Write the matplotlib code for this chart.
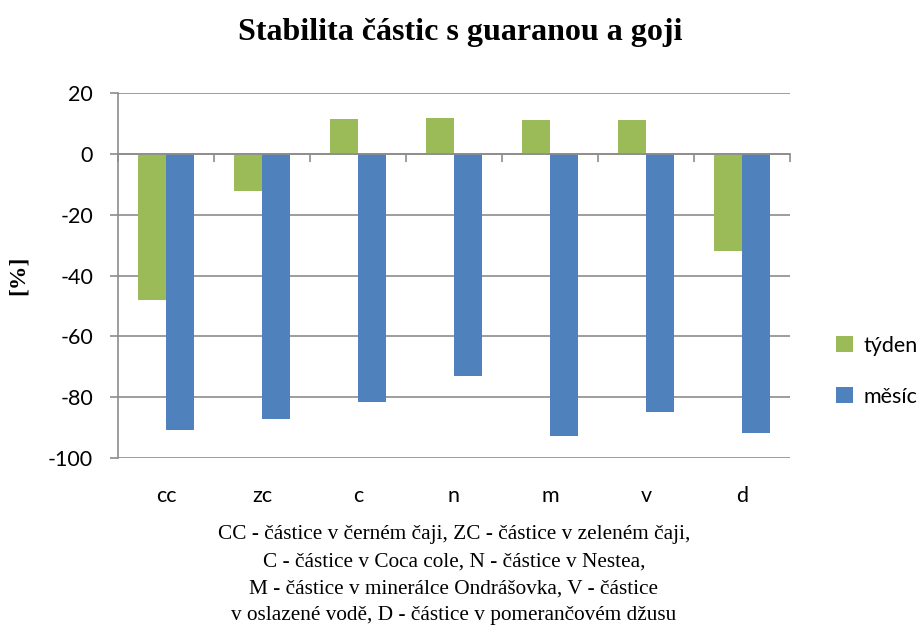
import numpy as np
import matplotlib.pyplot as plt

categories = ["cc", "zc", "c", "n", "m", "v", "d"]
tyden = [-48.1, -12.3, 11.5, 11.9, 11.0, 11.0, -32.1]
mesic = [-90.7, -87.2, -81.7, -73.2, -92.7, -85.0, -91.8]
series_names = ["týden", "měsíc"]
y_ticks = [20, 0, -20, -40, -60, -80, -100]

title = "Stabilita částic s guaranou a goji"
note = ("CC - částice v černém čaji, ZC - částice v zeleném čaji,\n"
        "C - částice v Coca cole, N - částice v Nestea,\n"
        "M - částice v minerálce Ondrášovka, V - částice\n"
        "v oslazené vodě, D - částice v pomerančovém džusu")

sans = ["Lato", "DejaVu Sans"]
serif = ["Liberation Serif", "DejaVu Serif"]
green = "#9BBB59"
blue = "#4F81BD"
grid_col = "#8C8C8C"

fig = plt.figure(figsize=(9.2, 6.37), dpi=100)
ax = fig.add_axes([118 / 920, 1 - 458 / 637, 672 / 920, 365 / 637])

x = np.arange(len(categories))
w = 0.29
ax.bar(x - w / 2, tyden, w, color=green, label=series_names[0], zorder=3)
ax.bar(x + w / 2, mesic, w, color=blue, label=series_names[1], zorder=3)

ax.set_xlim(-0.5, len(categories) - 0.5)
ax.set_ylim(-100, 20)
ax.set_yticks(y_ticks)
ax.set_yticklabels([str(v) for v in y_ticks], family=sans, fontsize=15.5)
ax.yaxis.grid(True, color=grid_col, linewidth=1.2, zorder=0)
ax.tick_params(axis="y", length=6, color=grid_col, width=1.2, pad=12)

# category axis sits on the zero line, with ticks between the groups
ax.spines["bottom"].set_position(("data", 0))
ax.spines["bottom"].set_color(grid_col)
ax.spines["bottom"].set_linewidth(1.2)
ax.spines["bottom"].set_zorder(4)
ax.set_xticks(np.arange(len(categories) + 1) - 0.5)
ax.set_xticklabels([])
ax.tick_params(axis="x", length=6, color=grid_col, width=1.2, direction="out")
for s in ["top", "right"]:
    ax.spines[s].set_visible(False)
ax.spines["left"].set_color(grid_col)
ax.spines["left"].set_linewidth(1.2)

# category labels along the bottom of the plot
sec = ax.secondary_xaxis("bottom")
sec.set_xticks(x)
sec.set_xticklabels(categories, family=sans, fontsize=15.5)
sec.tick_params(length=0, pad=20)
sec.spines["bottom"].set_visible(False)
sec.set_xlabel(note, family=serif, fontsize=15.3, linespacing=1.57, labelpad=14)

ax.set_ylabel("[%]", family=serif, fontsize=17, fontweight="bold", labelpad=14)
fig.suptitle(title, family=serif, fontsize=23, fontweight="bold", y=0.972)

leg = ax.legend(loc="center left", bbox_to_anchor=(1.04, 0.238), frameon=False,
                prop={"family": sans, "size": 15.5}, handlelength=0.8,
                handleheight=0.8, handletextpad=0.45, labelspacing=1.45)

fig.savefig("out.png", dpi=100)
